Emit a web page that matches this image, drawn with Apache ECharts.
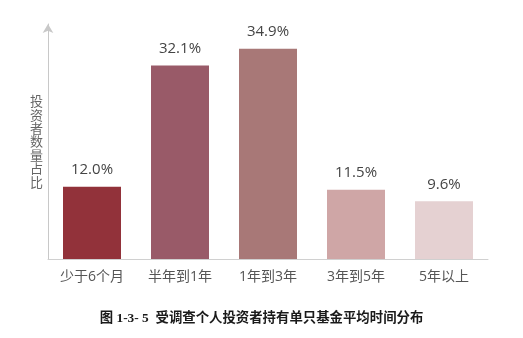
<!DOCTYPE html>
<html><head><meta charset="utf-8">
<script src="https://cdn.jsdelivr.net/npm/echarts@6/dist/echarts.min.js"></script>
<style>html,body{margin:0;padding:0;background:#fff}#c{width:523px;height:338px}</style>
</head><body><div id="c"></div>
<script>
const categories = ['少于6个月', '半年到1年', '1年到3年', '3年到5年', '5年以上'];
const values = [12.0, 32.1, 34.9, 11.5, 9.6];
const barColors = ['#92323a', '#995a68', '#a87877', '#cfa6a6', '#e5d1d2'];
const yAxisName = '投资者数量占比';
const caption = '图 1-3- 5  受调查个人投资者持有单只基金平均时间分布';

const chart = echarts.init(document.getElementById('c'), null, {renderer: 'canvas'});
chart.setOption({
  animation: false,
  backgroundColor: '#fff',
  textStyle: {fontFamily: "'Open Sans','Noto Sans CJK SC',sans-serif"},
  title: {
    text: caption, left: 'center', top: 307,
    textStyle: {fontSize: 13.4, fontWeight: 'bold', color: '#1a1a1a',
      fontFamily: "'Liberation Serif','Noto Sans CJK SC',serif"}
  },
  grid: {left: 48, right: 35, top: 24, bottom: 79, containLabel: false},
  xAxis: {
    type: 'category', data: categories,
    axisLine: {lineStyle: {color: '#d0d0d0', width: 1}},
    axisTick: {show: false},
    axisLabel: {color: '#555', fontSize: 14, margin: 11,
      fontFamily: "'Open Sans','Noto Sans CJK SC',sans-serif"}
  },
  yAxis: {
    type: 'value', min: 0, max: 39,
    name: yAxisName.split('').join('\n'),
    nameLocation: 'middle', nameRotate: 0, nameGap: 5,
    nameTextStyle: {color: '#666', fontSize: 13, lineHeight: 13.4, align: 'right',
      fontFamily: "'Noto Sans CJK SC',sans-serif", padding: [0, 0, 18, 0]},
    axisLine: {show: true, symbol: ['none', 'arrow'], symbolSize: [8, 9],
      lineStyle: {color: '#c8c8c8', width: 1}},
    axisTick: {show: false}, axisLabel: {show: false}, splitLine: {show: false}
  },
  series: [{
    type: 'bar', barWidth: 58,
    data: values.map((v, i) => ({value: v, itemStyle: {color: barColors[i]}})),
    label: {show: true, position: 'top', distance: 9, color: '#444', fontSize: 15,
      formatter: p => p.value.toFixed(1) + '%',
      fontFamily: "'Open Sans',sans-serif"}
  }]
});
</script></body></html>
